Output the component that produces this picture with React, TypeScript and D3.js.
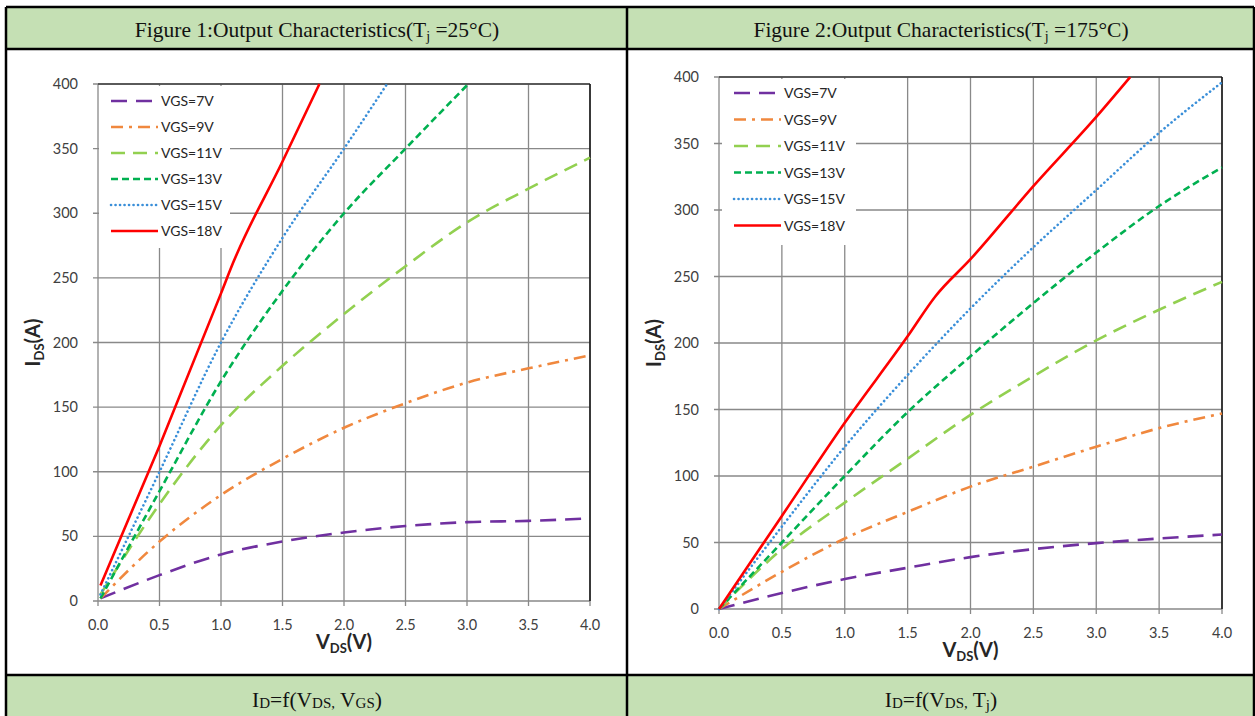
import * as d3 from 'd3';
import React from 'react';

// x values (V_DS, volts) shared by most curves
const vdsFull = [0.02, 0.5, 1.0, 1.5, 2.0, 2.5, 3.0, 3.5, 4.0];

// Figure 1: Tj = 25°C
const t25_vgs7 = [2, 20, 36, 46, 53, 58, 61, 62, 64];
const t25_vgs9 = [2, 46, 82, 110, 134, 153, 169, 180, 190];
const t25_vgs11 = [5, 75, 136, 182, 222, 259, 293, 319, 343];
const t25_vgs13_x = [0.02, 0.5, 1.0, 1.5, 2.0, 2.5, 3.01];
const t25_vgs13 = [2, 85, 170, 240, 300, 350, 400];
const t25_vgs15_x = [0.02, 0.5, 1.0, 1.5, 2.0, 2.35];
const t25_vgs15 = [5, 100, 200, 281, 350, 400];
const t25_vgs18_x = [0.02, 0.5, 1.0, 1.1, 1.5, 1.8];
const t25_vgs18 = [12, 120, 238, 262, 340, 400];

// Figure 2: Tj = 175°C
const vdsFull2 = [0.0, 0.5, 1.0, 1.5, 2.0, 2.5, 3.0, 3.5, 4.0];
const t175_vgs7 = [0, 12, 22.5, 31, 39, 45, 49.5, 53, 56];
const t175_vgs9 = [0, 28, 53, 73, 92, 107, 122, 136, 147];
const t175_vgs11 = [0, 45, 80, 113, 146, 175, 202, 225, 246];
const t175_vgs13 = [0, 50, 100, 148, 190, 230, 268, 303, 332];
const t175_vgs15 = [0, 62, 122, 176, 226, 272, 315, 358, 396];
const t175_vgs18_x = [0.0, 0.5, 1.0, 1.5, 1.72, 2.0, 2.5, 3.0, 3.27];
const t175_vgs18 = [0, 70, 140, 205, 235, 263, 318, 370, 400];

const legendLabels = ['VGS=7V', 'VGS=9V', 'VGS=11V', 'VGS=13V', 'VGS=15V', 'VGS=18V'];
const xTicks = [0, 0.5, 1.0, 1.5, 2.0, 2.5, 3.0, 3.5, 4.0];
const yTicks = [0, 50, 100, 150, 200, 250, 300, 350, 400];

const styles = [
  { color: '#7030A0', dash: '16,9', cap: 'butt' },
  { color: '#F0883E', dash: '12,6,3,6', cap: 'butt' },
  { color: '#92D050', dash: '14,8', cap: 'butt' },
  { color: '#00B050', dash: '7,4', cap: 'butt' },
  { color: '#3A8FD9', dash: '0.1,4.4', cap: 'round' },
  { color: '#FF0000', dash: '', cap: 'butt' },
];

const zip = (xs: number[], ys: number[]) => xs.map((x, i) => ({ x, y: ys[i] }));

const fig1 = [
  zip(vdsFull, t25_vgs7),
  zip(vdsFull, t25_vgs9),
  zip(vdsFull, t25_vgs11),
  zip(t25_vgs13_x, t25_vgs13),
  zip(t25_vgs15_x, t25_vgs15),
  zip(t25_vgs18_x, t25_vgs18),
];
const fig2 = [
  zip(vdsFull2, t175_vgs7),
  zip(vdsFull2, t175_vgs9),
  zip(vdsFull2, t175_vgs11),
  zip(vdsFull2, t175_vgs13),
  zip(vdsFull2, t175_vgs15),
  zip(t175_vgs18_x, t175_vgs18),
];

const FONT = 'Lato, "Open Sans", sans-serif';
const SERIF = '"Liberation Serif", "Times New Roman", serif';

type Pt = { x: number; y: number };

function Chart({ series, left, right, top, bottom, legend }: {
  series: Pt[][]; left: number; right: number; top: number; bottom: number;
  legend: { x: number; y: number; w: number; h: number; row0: number; step: number };
}) {
  const x = d3.scaleLinear().domain([0, 4]).range([left, right]);
  const y = d3.scaleLinear().domain([0, 400]).range([bottom, top]);
  const line = d3.line<Pt>().x(d => x(d.x)).y(d => y(d.y)).curve(d3.curveMonotoneX);
  const cx = (left + right) / 2;
  const cy = (top + bottom) / 2;
  return (
    <g>
      {xTicks.map(t => (
        <g key={'x' + t}>
          <line x1={x(t)} x2={x(t)} y1={top} y2={bottom + 5} stroke="#898989" strokeWidth={1.3} />
          <text x={x(t)} y={bottom + 29} textAnchor="middle" fontSize={14.5} fill="#404040" fontFamily={FONT}>{t.toFixed(1)}</text>
        </g>
      ))}
      {yTicks.map(t => (
        <g key={'y' + t}>
          <line x1={left - 5} x2={right} y1={y(t)} y2={y(t)} stroke="#898989" strokeWidth={1.3} />
          <text x={left - 20} y={y(t) + 5} textAnchor="end" fontSize={14.5} fill="#404040" fontFamily={FONT}>{t}</text>
        </g>
      ))}
      <line x1={left} x2={right} y1={top} y2={top} stroke="#404040" strokeWidth={1.5} />
      <line x1={right} x2={right} y1={top} y2={bottom} stroke="#111" strokeWidth={1.5} />
      <rect x={legend.x} y={legend.y} width={legend.w} height={legend.h} fill="#fff" />
      {series.map((s, i) => (
        <path key={i} d={line(s) || ''} fill="none" stroke={styles[i].color} strokeWidth={2.6}
          strokeDasharray={styles[i].dash} strokeLinecap={styles[i].cap as any} />
      ))}
      {legendLabels.map((l, i) => {
        const ly = legend.row0 + i * legend.step;
        return (
          <g key={l}>
            <line x1={legend.x + 12} x2={legend.x + 59} y1={ly} y2={ly} stroke={styles[i].color} strokeWidth={2.6}
              strokeDasharray={styles[i].dash} strokeLinecap={styles[i].cap as any} />
            <text x={legend.x + 62} y={ly + 5} fontSize={14} fill="#262626" fontFamily={FONT}>{l}</text>
          </g>
        );
      })}
      <text x={cx} y={bottom + 48} textAnchor="middle" fontSize={20} fontWeight="bold" fill="#262626" fontFamily={FONT}>
        V<tspan fontSize={13} dy={4}>DS</tspan><tspan dy={-4}>(V)</tspan>
      </text>
      <text transform={`translate(${left - 58},${cy}) rotate(-90)`} textAnchor="middle" fontSize={20} fontWeight="bold" fill="#262626" fontFamily={FONT}>
        I<tspan fontSize={13} dy={4}>DS</tspan><tspan dy={-4}>(A)</tspan>
      </text>
    </g>
  );
}

export default function App() {
  const green = '#C5E0B4';
  return (
    <div style={{ position: 'absolute', left: 0, top: 0 }}>
      <svg width={1255} height={716} style={{ display: 'block' }}>
        <rect x={0} y={0} width={1255} height={716} fill="#fff" />
        <rect x={6} y={7} width={1248} height={42} fill={green} />
        <rect x={6} y={675} width={1248} height={45} fill={green} />
        <text x={317} y={37} textAnchor="middle" fontSize={21.5} fontFamily={SERIF} fill="#111">
          Figure 1:Output Characteristics(T<tspan fontSize={14} dy={4}>j</tspan><tspan dy={-4}> =25°C)</tspan>
        </text>
        <text x={941} y={37} textAnchor="middle" fontSize={21.5} fontFamily={SERIF} fill="#111">
          Figure 2:Output Characteristics(T<tspan fontSize={14} dy={4}>j</tspan><tspan dy={-4}> =175°C)</tspan>
        </text>
        <text x={317} y={707} textAnchor="middle" fontSize={21.5} fontFamily={SERIF} fill="#111">
          I<tspan fontSize={15} dy={1}>D</tspan><tspan dy={-1}>=f(V</tspan><tspan fontSize={15} dy={1}>DS,</tspan><tspan dy={-1}> V</tspan><tspan fontSize={15} dy={1}>GS</tspan><tspan dy={-1}>)</tspan>
        </text>
        <text x={941} y={707} textAnchor="middle" fontSize={21.5} fontFamily={SERIF} fill="#111">
          I<tspan fontSize={15} dy={1}>D</tspan><tspan dy={-1}>=f(V</tspan><tspan fontSize={15} dy={1}>DS,</tspan><tspan dy={-1}> T</tspan><tspan fontSize={15} dy={3}>j</tspan><tspan dy={-3}>)</tspan>
        </text>
        <Chart series={fig1} left={98} right={590} top={84} bottom={601}
          legend={{ x: 99, y: 86, w: 131, h: 162, row0: 101, step: 26 }} />
        <Chart series={fig2} left={719} right={1222} top={77} bottom={609}
          legend={{ x: 722, y: 79, w: 134, h: 166, row0: 93, step: 26.5 }} />
        <g stroke="#000" strokeWidth={2.5} fill="none">
          <line x1={6} x2={6} y1={7} y2={716} />
          <line x1={1254} x2={1254} y1={7} y2={716} />
          <line x1={627} x2={627} y1={7} y2={716} />
          <line x1={6} x2={1254} y1={7} y2={7} />
          <line x1={6} x2={1254} y1={49} y2={49} />
          <line x1={6} x2={1254} y1={675} y2={675} />
        </g>
      </svg>
    </div>
  );
}
